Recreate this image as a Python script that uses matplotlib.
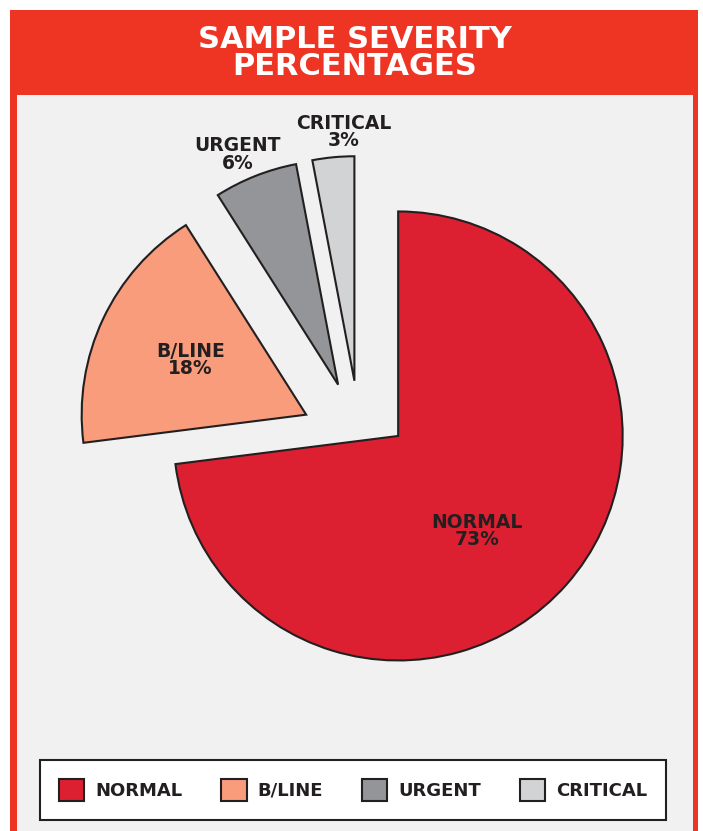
import numpy as np
import matplotlib
matplotlib.use("Agg")
import matplotlib.pyplot as plt
from matplotlib.patches import Rectangle

# data
categories = ["NORMAL", "B/LINE", "URGENT", "CRITICAL"]
percentages = [73, 18, 6, 3]
colors = ["#dc2032", "#f89c7b", "#939598", "#d1d3d4"]

# layout constants
explode = [0.0, 0.265, 0.265, 0.265]
normal_shift = (0.17, 0.018)
label_radius = [0.55, 0.57, 1.12, 1.11]
label_angle_tweak = [-9, 0, 2, -3]

W, H = 703, 831
R_PX = 224.5
CX, CY = 360.0, 440.0

edge = "#231f20"
red = "#ee3524"
bg = "#f1f1f1"

fig = plt.figure(figsize=(W / 100, H / 100), dpi=100)
fig.patch.set_facecolor("white")
ax = fig.add_axes([0, 0, 1, 1])
ax.axis("off")

# frame
ax.add_patch(Rectangle((10 / W, 0), 688 / W, 1 - 10 / H, transform=ax.transAxes,
                       facecolor=red, edgecolor="none", zorder=0))
ax.add_patch(Rectangle((17 / W, 0), 676 / W, 1 - 95 / H, transform=ax.transAxes,
                       facecolor=bg, edgecolor="none", zorder=0.5))
ax.text(355 / W, 1 - 53 / H, "SAMPLE SEVERITY\nPERCENTAGES", transform=ax.transAxes,
        ha="center", va="center", color="white", fontsize=22, fontweight="bold",
        linespacing=0.9, zorder=3)

wedges, _ = ax.pie(percentages, colors=colors, startangle=90, counterclock=False,
                   explode=explode, radius=1.0,
                   wedgeprops=dict(edgecolor=edge, linewidth=1.5, joinstyle="miter"))
ax.set_xlim(-CX / R_PX, (W - CX) / R_PX)
ax.set_ylim(-(H - CY) / R_PX, CY / R_PX)
ax.set_aspect("auto")

cx0, cy0 = wedges[0].center
wedges[0].set_center((cx0 + normal_shift[0], cy0 + normal_shift[1]))

for w, name, pct, rl, tw in zip(wedges, categories, percentages, label_radius, label_angle_tweak):
    mid = np.deg2rad((w.theta1 + w.theta2) / 2 + tw)
    x = w.center[0] + rl * np.cos(mid)
    y = w.center[1] + rl * np.sin(mid)
    ax.text(x, y, f"{name}\n{pct}%", ha="center", va="center", color=edge,
            fontsize=13.5, fontweight="bold", linespacing=0.9, zorder=4)

leg = ax.legend(wedges, categories, loc="center", ncol=4, mode="expand",
                bbox_to_anchor=(40 / W, 11 / H, 626 / W, 60 / H),
                bbox_transform=ax.transAxes, frameon=True, fancybox=False,
                prop={"weight": "bold", "size": 13}, handlelength=1.4,
                handleheight=1.5, handletextpad=0.6, columnspacing=0.8,
                borderpad=1.05, borderaxespad=0, labelcolor=edge)
leg.get_frame().set_edgecolor(edge)
leg.get_frame().set_linewidth(1.5)
leg.get_frame().set_facecolor("white")
leg.get_frame().set_alpha(1)

fig.savefig("out.png", dpi=100)
